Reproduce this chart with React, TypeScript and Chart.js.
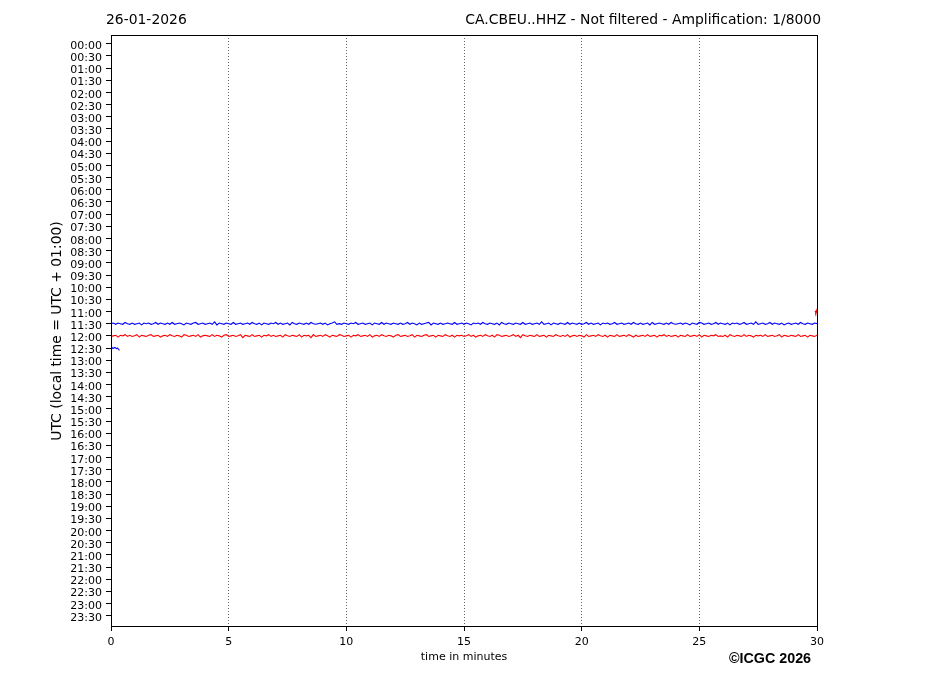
import React, { useEffect, useRef } from "react";
import { Chart, registerables } from "chart.js";

Chart.register(...registerables);

const rowLabels = [
  "00:00","00:30","01:00","01:30","02:00","02:30","03:00","03:30",
  "04:00","04:30","05:00","05:30","06:00","06:30","07:00","07:30",
  "08:00","08:30","09:00","09:30","10:00","10:30","11:00","11:30",
  "12:00","12:30","13:00","13:30","14:00","14:30","15:00","15:30",
  "16:00","16:30","17:00","17:30","18:00","18:30","19:00","19:30",
  "20:00","20:30","21:00","21:30","22:00","22:30","23:00","23:30",
];

const xTicks = [0, 5, 10, 15, 20, 25, 30];

// Trace samples (counts), one list per half-hour row
const row1100Start = 29.92;
const row1100Step = 0.025;
const row1100 = [1, -2, 2, -1];

const row1130Start = 0;
const row1130Step = 0.1;
const row1130 = [
  0,1,-1,1,0,-1,2,0,-1,1,-1,0,1,-2,1,0,1,-1,0,2,
  -1,1,0,-1,1,-1,2,-1,0,1,0,-2,1,0,-1,1,2,-1,0,1,
  -1,0,1,-1,3,-2,1,0,-1,1,0,-1,2,-1,0,1,-1,0,1,-1,
  2,0,-1,1,-2,1,0,-1,1,0,2,-1,1,-1,0,1,-2,2,0,-1,
  1,0,-1,1,-1,2,0,-1,0,1,-1,1,-2,0,1,3,-1,0,-1,1,
  0,-1,1,0,2,-1,0,1,-1,0,1,-2,1,0,-1,2,-1,1,0,-1,
  1,0,-1,1,-1,0,2,-1,1,0,-2,1,-1,0,1,2,-2,1,0,-1,
  1,-1,0,1,0,-1,2,-1,0,1,-1,1,0,-2,1,0,1,-1,2,0,
  -1,1,0,-1,1,-2,2,0,-1,1,0,-1,1,0,-1,2,-1,0,1,-1,
  0,1,-1,3,-1,0,1,-2,1,0,-1,1,0,-1,2,-1,1,0,-1,1,
  -1,0,2,-1,1,-1,0,1,-2,1,0,1,-1,0,2,-1,0,1,-1,0,
  1,-1,2,0,-1,1,-1,0,1,-2,2,-1,0,1,0,-1,1,-1,2,0,
  -1,0,1,-1,1,0,-2,1,0,-1,2,1,-1,0,1,-1,0,2,-1,1,
  0,-1,1,-2,1,0,1,-1,0,2,-1,0,1,-1,3,-1,0,1,-1,0,
  2,-1,1,0,-1,1,-2,0,1,-1,0,1,-1,2,0,-1,1,0,-1,1,
  0,
];

const row1200Start = 0;
const row1200Step = 0.1;
const row1200 = [
  -1,0,1,-2,1,0,2,-1,1,-1,0,2,-2,1,0,-1,1,2,-1,0,
  1,-2,0,1,-1,2,0,-1,1,0,-2,2,1,-1,0,1,-1,2,-2,0,
  1,0,-1,2,-1,1,0,-2,1,2,-1,0,1,-1,0,2,-3,1,0,-1,
  2,-1,0,1,-2,1,0,2,-1,1,-1,0,1,-2,2,0,-1,1,0,-1,
  2,-2,1,0,1,-3,2,-1,0,1,-1,2,0,-2,1,0,-1,2,1,-1,
  0,1,-2,1,0,2,-1,0,1,-1,2,-2,0,1,-1,2,0,-1,1,0,
  -2,1,2,-1,0,1,-1,0,2,-2,1,0,-1,1,2,-1,0,1,-2,1,
  0,-1,2,0,-1,1,-2,1,0,1,-1,0,2,-1,1,-2,0,1,-1,2,
  0,-1,1,-2,2,1,-1,0,1,-1,0,2,-1,1,-3,2,0,-1,1,0,
  -1,2,-1,0,1,-2,1,0,-1,2,0,-1,1,-1,2,-2,0,1,-1,1,
  0,-2,2,-1,0,1,-1,2,0,-1,1,-2,1,0,-1,2,-1,0,1,-1,
  2,0,-2,1,-1,0,1,-1,2,-1,0,1,-2,1,0,2,-1,1,-1,0,
  1,-2,1,0,-1,2,-1,0,1,-1,2,-2,1,0,-1,1,0,2,-1,0,
  -1,1,-2,2,0,-1,1,0,-1,2,-1,1,0,-2,1,0,1,-1,2,-1,
  0,1,-1,0,2,-2,1,0,-1,1,0,-1,2,-1,0,1,-2,1,0,-1,
  1,
];

const row1230Start = 0;
const row1230Step = 0.04;
const row1230 = [0, 1, -1, 0, 1, 0, -1, 0, -2, -4];

const traces = [
  { row: 22, start: row1100Start, step: row1100Step, values: row1100, color: "#ff0000" },
  { row: 23, start: row1130Start, step: row1130Step, values: row1130, color: "#0000ff" },
  { row: 24, start: row1200Start, step: row1200Step, values: row1200, color: "#ff0000" },
  { row: 25, start: row1230Start, step: row1230Step, values: row1230, color: "#0000ff" },
];

const GAIN = 0.05; // rows per count
const BASE = 0; // trace baseline offset (rows)

const FONT = "'DejaVu Sans', sans-serif";

const textPlugin = {
  id: "texts",
  beforeDraw(chart: any) {
    const c = chart.ctx;
    c.save();
    c.fillStyle = "#ffffff";
    c.fillRect(0, 0, chart.width, chart.height);
    c.restore();
  },
  afterDraw(chart: any) {
    const c = chart.ctx;
    const a = chart.chartArea;
    const ys = chart.scales.y;
    c.save();
    c.strokeStyle = "#000";
    c.lineWidth = 1;
    c.setLineDash([]);
    c.strokeRect(Math.round(a.left) + 0.5, Math.round(a.top) + 0.5, Math.round(a.right - a.left), Math.round(a.bottom - a.top));
    c.fillStyle = "#000";
    // y tick labels
    c.font = `11px ${FONT}`;
    c.textAlign = "right";
    c.textBaseline = "middle";
    rowLabels.forEach((lab, i) => {
      c.fillText(lab, 102, ys.getPixelForValue(i) + 2.2);
    });
    c.font = `13.9px ${FONT}`;
    c.textAlign = "left";
    c.fillText("26-01-2026", 106, 20);
    c.textAlign = "right";
    c.fillText("CA.CBEU..HHZ - Not filtered - Amplification: 1/8000", 821, 20);
    c.save();
    c.translate(57, 331);
    c.rotate(-Math.PI / 2);
    c.textAlign = "center";
    c.fillText("UTC (local time = UTC + 01:00)", 0, 0);
    c.restore();
    c.font = `11px ${FONT}`;
    c.textAlign = "center";
    c.fillText("time in minutes", 464, 657);
    c.font = `bold 14.3px 'Liberation Sans', Arial, sans-serif`;
    c.textAlign = "left";
    c.fillText("\u00A9ICGC 2026", 729, 659);
    c.restore();
  },
};

export default function App() {
  const ref = useRef<HTMLCanvasElement>(null);
  useEffect(() => {
    const datasets = traces.map((t) => ({
      data: t.values.map((v, i) => ({ x: t.start + i * t.step, y: t.row + BASE - v * GAIN })),
      borderColor: t.color,
      borderWidth: 1.1,
      pointRadius: 0,
      tension: 0,
      fill: false,
    }));
    const chart = new Chart(ref.current!, {
      type: "line",
      data: { datasets },
      plugins: [textPlugin],
      options: {
        animation: false,
        responsive: false,
        parsing: false,
        layout: { padding: { top: 35, right: 110, left: 0, bottom: 0 } },
        plugins: { legend: { display: false }, tooltip: { enabled: false } },
        scales: {
          x: {
            type: "linear",
            min: 0,
            max: 30,
            afterBuildTicks: (s: any) => { s.ticks = xTicks.map((v) => ({ value: v })); },
            afterFit: (s: any) => { s.height = 70; },
            ticks: { font: { family: FONT, size: 11 }, color: "#000", padding: 5, maxRotation: 0, autoSkip: false },
            grid: { color: "#000", lineWidth: 0.6, tickBorderDash: [], tickColor: "#000", tickLength: 5, tickWidth: 1 },
            border: { display: false, dash: [1, 2] },
          },
          y: {
            type: "linear",
            min: -0.72,
            max: 47.84,
            reverse: true,
            afterBuildTicks: (s: any) => { s.ticks = rowLabels.map((_, i) => ({ value: i })); },
            afterFit: (s: any) => { s.width = 111; },
            ticks: {
              display: false,
              autoSkip: false,
            },
            grid: { drawOnChartArea: false, drawTicks: true, tickColor: "#000", tickLength: 5, tickWidth: 1 },
            border: { display: false },
          },
        },
      } as any,
    });
    return () => chart.destroy();
  }, []);
  return (
    <div style={{ position: "absolute", left: 0, top: 0, width: 927, height: 696 }}>
      <canvas ref={ref} width={927} height={696} style={{ width: 927, height: 696 }} />
    </div>
  );
}
